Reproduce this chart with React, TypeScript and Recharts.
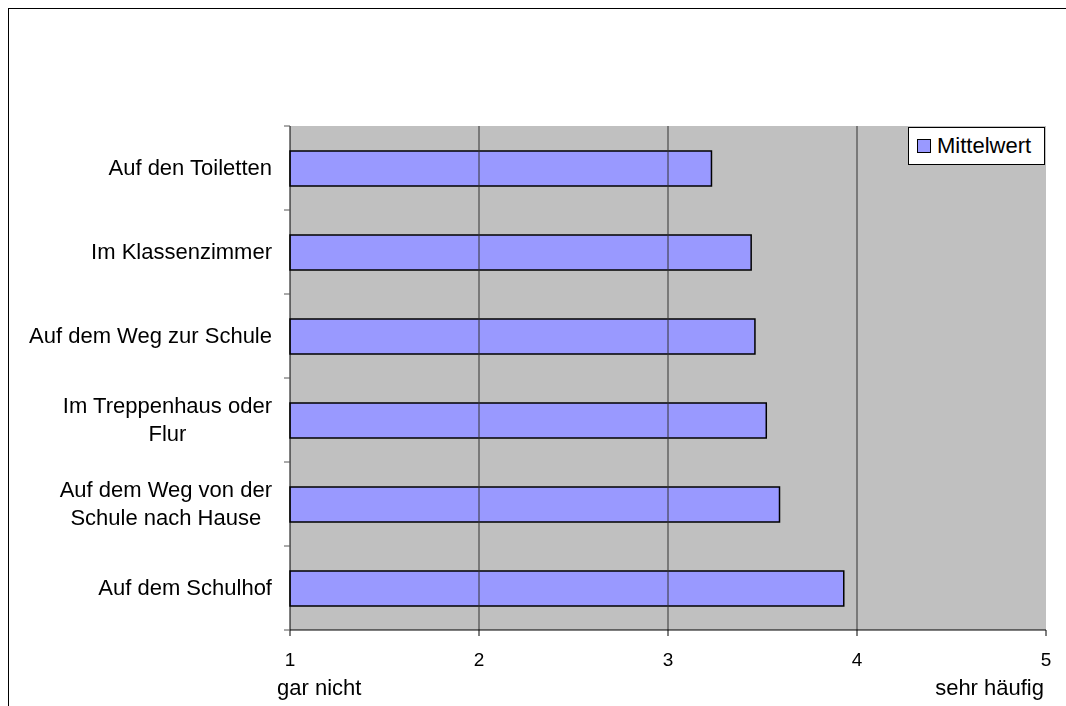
import React from "react"
import {
  BarChart,
  Bar,
  XAxis,
  YAxis,
  CartesianGrid,
  ReferenceLine,
  Legend,
} from "recharts"

// ── data ─────────────────────────────────────────────
const places = [
  ["Auf den Toiletten"],
  ["Im Klassenzimmer"],
  ["Auf dem Weg zur Schule"],
  ["Im Treppenhaus oder", "Flur"],
  ["Auf dem Weg von der", "Schule nach Hause"],
  ["Auf dem Schulhof"],
]
const meanValues = [3.23, 3.44, 3.46, 3.52, 3.59, 3.93]
const scaleTicks = [1, 2, 3, 4, 5]
const gridValues = [2, 3, 4]
const scaleEnds: Record<number, string> = { 1: "gar nicht", 5: "sehr häufig" }
const seriesName = "Mittelwert"

const data = places.map((lines, i) => ({
  name: lines.join(" "),
  lines,
  value: meanValues[i],
}))

const FONT = '"Liberation Sans", Arial, sans-serif'
const BAR_FILL = "#9999FF"
const PLOT_H = 504

function CategoryTick(props: any) {
  const { x, y, payload, index } = props
  const axisX = x + 8
  const band = PLOT_H / data.length
  const lines: string[] = data[index]?.lines ?? [payload.value]
  return (
    <g>
      <line x1={axisX - 6} x2={axisX} y1={y - band / 2} y2={y - band / 2} stroke="#555" />
      {index === data.length - 1 && (
        <line x1={axisX - 6} x2={axisX} y1={y + band / 2} y2={y + band / 2} stroke="#555" />
      )}
      <foreignObject x={x - 282} y={y - 40} width={272} height={80}>
        <div
          style={{
            width: 272,
            height: 80,
            display: "flex",
            alignItems: "center",
            justifyContent: "flex-end",
            fontFamily: FONT,
            fontSize: 22,
            lineHeight: "28px",
            color: "#000",
          }}
        >
          <div style={{ textAlign: "center", whiteSpace: "nowrap" }}>
            {lines.map((l) => (
              <div key={l}>{l}</div>
            ))}
          </div>
        </div>
      </foreignObject>
    </g>
  )
}

function ScaleTick(props: any) {
  const { x, y, payload } = props
  const v = payload.value
  return (
    <g fontFamily={FONT} fill="#000">
      <text x={x} y={y + 28} textAnchor="middle" fontSize={19}>
        {v}
      </text>
      {v === 1 && (
        <text x={x - 13} y={y + 57} textAnchor="start" fontSize={22}>
          {scaleEnds[v]}
        </text>
      )}
      {v === 5 && (
        <text x={x - 2} y={y + 57} textAnchor="end" fontSize={22}>
          {scaleEnds[v]}
        </text>
      )}
    </g>
  )
}

function LegendBox() {
  return (
    <div
      style={{
        width: 137,
        height: 38,
        boxSizing: "border-box",
        background: "#fff",
        border: "1px solid #000",
        display: "flex",
        alignItems: "center",
        fontFamily: FONT,
        fontSize: 22,
        color: "#000",
      }}
    >
      <span
        style={{
          display: "inline-block",
          width: 12,
          height: 12,
          background: BAR_FILL,
          border: "1px solid #000",
          marginLeft: 8,
          marginRight: 6,
        }}
      />
      <span>{seriesName}</span>
    </div>
  )
}

export default function App() {
  return (
    <div style={{ position: "fixed", left: 8, top: 8, width: 1058, height: 698 }}>
      <div
        style={{
          position: "absolute",
          left: 0,
          top: 0,
          width: 1070,
          height: 710,
          borderLeft: "1px solid #000",
          borderTop: "1px solid #000",
          pointerEvents: "none",
        }}
      />
      <BarChart
        width={1058}
        height={698}
        data={data}
        layout="vertical"
        margin={{ top: 118, right: 20, bottom: 0, left: 0 }}
        barCategoryGap={0}
      >
        <CartesianGrid fill="#C0C0C0" horizontal={false} vertical={false} />
        {gridValues.map((g) => (
          <ReferenceLine key={g} x={g} stroke="#333" strokeWidth={1} />
        ))}
        <XAxis
          type="number"
          domain={[1, 5]}
          ticks={scaleTicks}
          height={76}
          stroke="#000"
          tickSize={6}
          tickMargin={2}
          tick={<ScaleTick />}
          interval={0}
        />
        <YAxis
          type="category"
          dataKey="name"
          width={282}
          stroke="#000"
          tickLine={false}
          tickSize={6}
          tickMargin={2}
          tick={<CategoryTick />}
          interval={0}
        />
        <Legend
          layout="horizontal"
          verticalAlign="middle"
          align="center"
          wrapperStyle={{ top: 119, left: 900, width: "auto", height: "auto" }}
          content={() => <LegendBox />}
        />
        <Bar
          dataKey="value"
          name={seriesName}
          fill={BAR_FILL}
          stroke="#000"
          strokeWidth={1.5}
          barSize={35}
          isAnimationActive={false}
        />
      </BarChart>
    </div>
  )
}
